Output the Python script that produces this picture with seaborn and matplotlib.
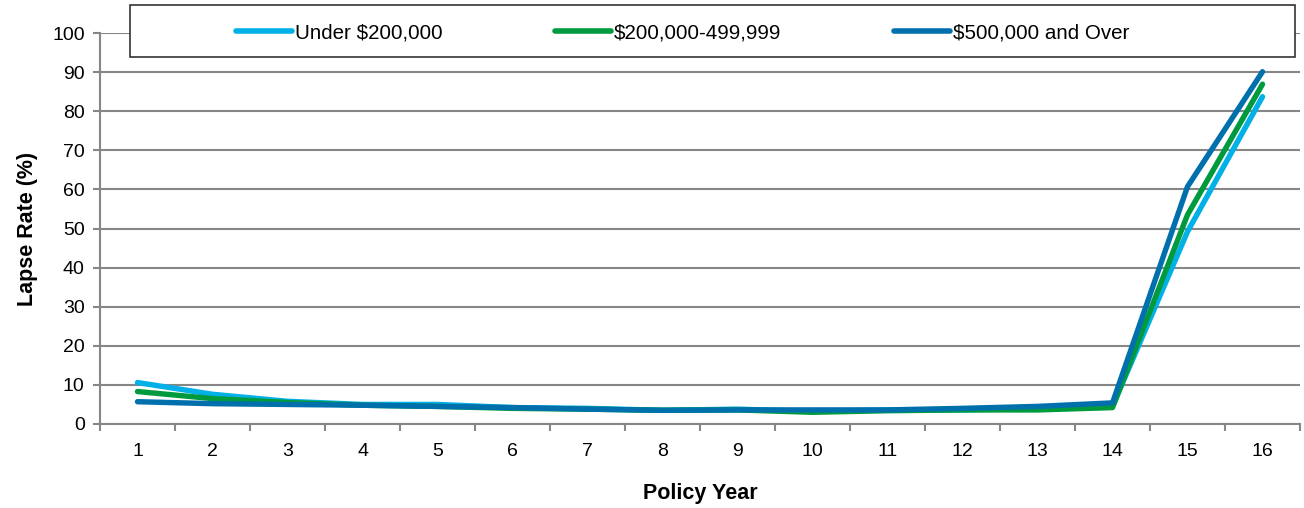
import numpy as np
import pandas as pd
import matplotlib
matplotlib.use("Agg")
import matplotlib.pyplot as plt
from matplotlib.patches import Rectangle
import seaborn as sns

years = list(range(1, 17))
under_200k = [10.6, 7.6, 5.8, 5.0, 5.0, 4.2, 4.0, 3.5, 3.8, 3.2, 3.6, 3.6, 4.0, 4.5, 49.2, 83.7]
mid_200k_500k = [8.3, 6.5, 5.5, 4.8, 4.5, 4.0, 3.8, 3.5, 3.6, 3.0, 3.4, 3.6, 3.6, 4.2, 53.5, 86.9]
over_500k = [5.7, 5.2, 5.0, 4.8, 4.5, 4.2, 3.8, 3.5, 3.6, 3.6, 3.6, 4.0, 4.5, 5.4, 60.7, 90.1]
series_names = ['Under $200,000', '$200,000-499,999', '$500,000 and Over']
colors = ['#00B0E6', '#009A3E', '#0070AD']

df = pd.DataFrame({
    'Policy Year': years * 3,
    'Lapse Rate': under_200k + mid_200k_500k + over_500k,
    'Band': [series_names[0]] * 16 + [series_names[1]] * 16 + [series_names[2]] * 16,
})

sns.set_style('white')
plt.rcParams['font.family'] = ['Liberation Sans', 'DejaVu Sans']
plt.rcParams['text.color'] = 'black'
plt.rcParams['xtick.color'] = 'black'
plt.rcParams['ytick.color'] = 'black'
plt.rcParams['axes.labelcolor'] = 'black'

fig = plt.figure(figsize=(13.04, 5.08), dpi=100)
ax = fig.add_axes([100 / 1304, 1 - 424 / 508, 1200 / 1304, 391 / 508])

sns.lineplot(data=df, x='Policy Year', y='Lapse Rate', hue='Band',
             palette=dict(zip(series_names, colors)), linewidth=3.9,
             solid_capstyle='round', ax=ax, legend=True)

ax.set_xlim(0.5, 16.5)
ax.set_ylim(0, 100)
ax.set_yticks(range(0, 101, 10))
ax.set_xticks(years)
ax.set_xticks(np.arange(0.5, 17, 1), minor=True)
ax.yaxis.grid(True, color='#868686', linewidth=1.5)
ax.set_axisbelow(True)
for s in ['top', 'right']:
    ax.spines[s].set_visible(False)
for s in ['left', 'bottom']:
    ax.spines[s].set_color('#868686')
    ax.spines[s].set_linewidth(1.5)

ax.tick_params(axis='y', which='major', left=True, length=5, width=1.5, color='#868686',
               labelsize=14, labelcolor='black', pad=6)
ax.tick_params(axis='x', which='major', bottom=False, length=0, labelsize=14,
               labelcolor='black', pad=14)
ax.tick_params(axis='x', which='minor', bottom=True, length=5, width=1.5, color='#868686')

ax.set_xlabel('Policy Year', fontsize=15.5, fontweight='bold', labelpad=16)
ax.set_ylabel('Lapse Rate (%)', fontsize=15.5, fontweight='bold', labelpad=10)

# legend box across the top
box = Rectangle((130 / 1304, 1 - 57 / 508), 1165 / 1304, 52 / 508, transform=fig.transFigure,
                facecolor='white', edgecolor='#333333', linewidth=1.2, zorder=5)
fig.patches.append(box)

handles, labels = ax.get_legend_handles_labels()
ax.get_legend().remove()
leg = fig.legend(handles, labels, ncol=3, loc='center left',
                 bbox_to_anchor=(236 / 1304, 1 - 33 / 508),
                 fontsize=14.8, frameon=False, handlelength=2.7, handletextpad=0.15,
                 columnspacing=5.5, borderpad=0, borderaxespad=0)
leg.set_zorder(6)
for line in leg.get_lines():
    line.set_linewidth(4)

fig.savefig('out.png', dpi=100)
